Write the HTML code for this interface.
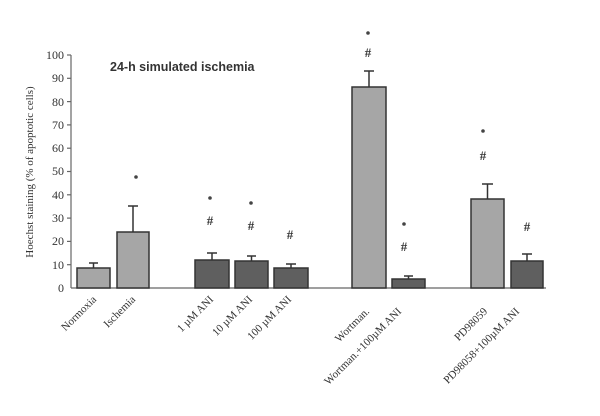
<!DOCTYPE html>
<html><head><meta charset="utf-8"><style>
html,body{margin:0;padding:0;background:#fff}
svg{display:block}
text{font-family:"Liberation Serif",serif;fill:#333}
</style></head><body>
<svg width="600" height="416" viewBox="0 0 600 416">
<g stroke="#666" stroke-width="1.2">
<line x1="71" y1="55" x2="71" y2="288"/>
<line x1="71" y1="288" x2="546" y2="288"/>
<line x1="67" y1="55" x2="71" y2="55"/><line x1="67" y1="78.3" x2="71" y2="78.3"/>
<line x1="67" y1="101.6" x2="71" y2="101.6"/><line x1="67" y1="124.9" x2="71" y2="124.9"/>
<line x1="67" y1="148.2" x2="71" y2="148.2"/><line x1="67" y1="171.5" x2="71" y2="171.5"/>
<line x1="67" y1="194.8" x2="71" y2="194.8"/><line x1="67" y1="218.1" x2="71" y2="218.1"/>
<line x1="67" y1="241.4" x2="71" y2="241.4"/><line x1="67" y1="264.7" x2="71" y2="264.7"/>
</g>
<g font-size="12" text-anchor="end">
<text x="64" y="59">100</text><text x="64" y="82">90</text><text x="64" y="106">80</text>
<text x="64" y="129">70</text><text x="64" y="152">60</text><text x="64" y="175">50</text>
<text x="64" y="199">40</text><text x="64" y="222">30</text><text x="64" y="245">20</text>
<text x="64" y="269">10</text><text x="64" y="292">0</text>
</g>
<text transform="translate(33,172) rotate(-90)" font-size="11" text-anchor="middle">Hoechst staining (% of apoptotic cells)</text>
<text x="110" y="71" font-size="12.5" font-weight="bold" style="font-family:'Liberation Sans',sans-serif" fill="#222">24-h simulated ischemia</text>
<g stroke="#333" stroke-width="1.5">
<rect x="77" y="268" width="33" height="20" fill="#a6a6a6"/>
<rect x="117" y="232" width="32" height="56" fill="#a6a6a6"/>
<rect x="195" y="260" width="34" height="28" fill="#5f5f5f"/>
<rect x="235" y="261" width="33" height="27" fill="#5f5f5f"/>
<rect x="274" y="268" width="34" height="20" fill="#5f5f5f"/>
<rect x="352" y="87" width="34" height="201" fill="#a6a6a6"/>
<rect x="392" y="279" width="33" height="9" fill="#5f5f5f"/>
<rect x="471" y="199" width="33" height="89" fill="#a6a6a6"/>
<rect x="511" y="261" width="32" height="27" fill="#5f5f5f"/>
</g>
<g stroke="#333" stroke-width="1.5">
<path d="M93.5 268V263M89 263H98"/>
<path d="M133 232V206M128 206H138"/>
<path d="M212 260V253M207 253H217"/>
<path d="M251.5 261V256M247 256H256"/>
<path d="M291 268V264M286 264H296"/>
<path d="M369 87V71M364 71H374"/>
<path d="M408.5 279V276M404 276H413"/>
<path d="M487.5 199V184M482 184H493"/>
<path d="M527 261V254M522 254H532"/>
</g>
<g fill="#444">
<circle cx="136" cy="177" r="1.8"/>
<circle cx="210" cy="198" r="1.8"/><circle cx="251" cy="203" r="1.8"/>
<circle cx="368" cy="33" r="1.8"/><circle cx="404" cy="224" r="1.8"/>
<circle cx="483" cy="131" r="1.8"/>
</g>
<g font-size="13" font-weight="bold" text-anchor="middle" fill="#555">
<text x="210" y="225">#</text>
<text x="251" y="230">#</text>
<text x="290" y="239">#</text>
<text x="368" y="57">#</text>
<text x="404" y="251">#</text>
<text x="483" y="160">#</text>
<text x="527" y="231">#</text>
</g>
<g font-size="11" text-anchor="end">
<text transform="translate(97,300) rotate(-45)">Normoxia</text>
<text transform="translate(136,300) rotate(-45)">Ischemia</text>
<text transform="translate(214,300) rotate(-45)">1 µM ANI</text>
<text transform="translate(253,300) rotate(-45)">10 µM ANI</text>
<text transform="translate(292,300) rotate(-45)">100 µM ANI</text>
<text transform="translate(370,312) rotate(-45)">Wortman.</text>
<text transform="translate(402,312) rotate(-45)">Wortman.+100µM ANI</text>
<text transform="translate(488,312) rotate(-45)">PD98059</text>
<text transform="translate(520,312) rotate(-45)">PD98058+100µM ANI</text>
</g>
</svg>
</body></html>
